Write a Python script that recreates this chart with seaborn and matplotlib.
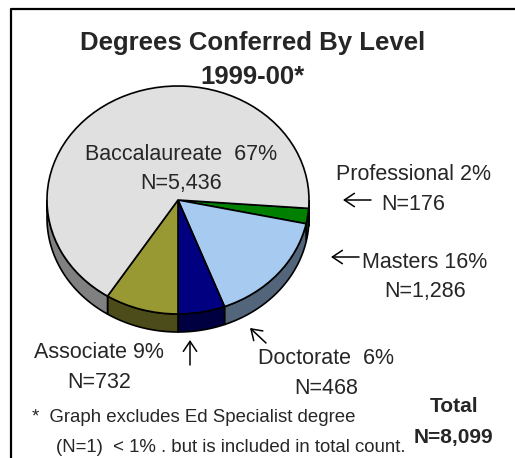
import numpy as np
import matplotlib
matplotlib.use("Agg")
import matplotlib.pyplot as plt
from matplotlib.patches import Polygon, FancyArrowPatch
from matplotlib.lines import Line2D
import seaborn as sns

# data (clockwise from the right edge)
levels = ["Professional", "Masters", "Doctorate", "Associate", "Baccalaureate"]
counts = [176, 1286, 468, 732, 5436]
pcts = [2, 16, 6, 9, 67]
total_count = 8099
top_colors = ["#008000", "#A6CAF0", "#000080", "#999933", "#E0E0E0"]
side_colors = ["#004000", "#53657A", "#000040", "#4C4C1A", "#808080"]

sns.set_style("white")
plt.rcParams["font.family"] = ["Liberation Sans", "DejaVu Sans"]

W, H = 515, 458
fig = plt.figure(figsize=(W / 100, H / 100), dpi=100)

def fx(x, y):
    return (x / W, 1 - y / H)

# pie axes: centre at (178, 200) px, radii 131 x 114 px
cx, cy, rx, ry = 178, 200, 131, 114
xl, yl = (-1.3, 1.3), (-1.4, 1.2)
ax = fig.add_axes([(cx + xl[0] * rx) / W, (H - cy + yl[0] * ry) / H,
                   (xl[1] - xl[0]) * rx / W, (yl[1] - yl[0]) * ry / H])

start = -90 + 360 * sum(counts[:3]) / sum(counts)
wedges, _ = ax.pie(counts, colors=top_colors, startangle=start, counterclock=False,
                   wedgeprops=dict(edgecolor="black", linewidth=1.2, zorder=3))

# side wall of the 3-d pie
depth = 18 / ry
for w, sc in zip(wedges, side_colors):
    t1, t2 = sorted([w.theta1, w.theta2])
    for k in range(-2, 2):
        a, b = max(t1, 180 + 360 * k), min(t2, 360 + 360 * k)
        if b <= a:
            continue
        t = np.radians(np.linspace(a, b, 100))
        upper = np.column_stack([np.cos(t), np.sin(t)])
        lower = upper[::-1] - [0, depth]
        ax.add_patch(Polygon(np.vstack([upper, lower]), closed=True, facecolor=sc,
                             edgecolor="black", linewidth=1.2, zorder=1))

ax.set_aspect("auto")
ax.set_xlim(*xl)
ax.set_ylim(*yl)
ax.axis("off")

# titles
fig.text(*fx(253, 43), "Degrees Conferred By Level", ha="center", va="center",
         fontsize=18.5, fontweight="bold")
fig.text(*fx(253, 77), "1999-00*", ha="center", va="center", fontsize=18.5, fontweight="bold")

# slice labels
lab_pos = {"Professional": (413, 175), "Masters": (425, 262), "Doctorate": (326, 359),
           "Associate": (99, 353), "Baccalaureate": (181, 154)}
for name, n, p in zip(levels, counts, pcts):
    x, y = lab_pos[name]
    sep = "  " if name in ("Baccalaureate", "Doctorate") else " "
    fig.text(*fx(x, y), f"{name}{sep}{p}%", ha="center", va="center", fontsize=15.5)
    fig.text(*fx(x, y + 30), f"N={n:,}", ha="center", va="center", fontsize=15.5)

# arrows
arrows = [((343, 200), (371, 200)), ((331, 257), (359, 257)),
          ((250, 328), (266, 343)), ((190, 340), (190, 365))]
for head, tail in arrows:
    fig.add_artist(FancyArrowPatch(
        fx(*tail), fx(*head), transform=fig.transFigure,
        arrowstyle="->,head_length=0.45,head_width=0.3",
        mutation_scale=16, linewidth=1.1, color="black",
        shrinkA=0, shrinkB=0))

# footnote and total
fig.text(*fx(32, 418), "*  Graph excludes Ed Specialist degree", ha="left", va="center", fontsize=13.4)
fig.text(*fx(56, 448), "(N=1)  < 1% . but is included in total count.", ha="left", va="center", fontsize=13.4)
fig.text(*fx(454, 407), "Total", ha="center", va="center", fontsize=15, fontweight="bold")
fig.text(*fx(453, 437), f"N={total_count:,}", ha="center", va="center", fontsize=15, fontweight="bold")

# frame (clipped on right and bottom)
fig.add_artist(Line2D([11 / W, 11 / W, 1], [0, 1 - 9 / H, 1 - 9 / H],
                      transform=fig.transFigure, color="black", linewidth=1.6))

fig.savefig("out.png", dpi=100)
